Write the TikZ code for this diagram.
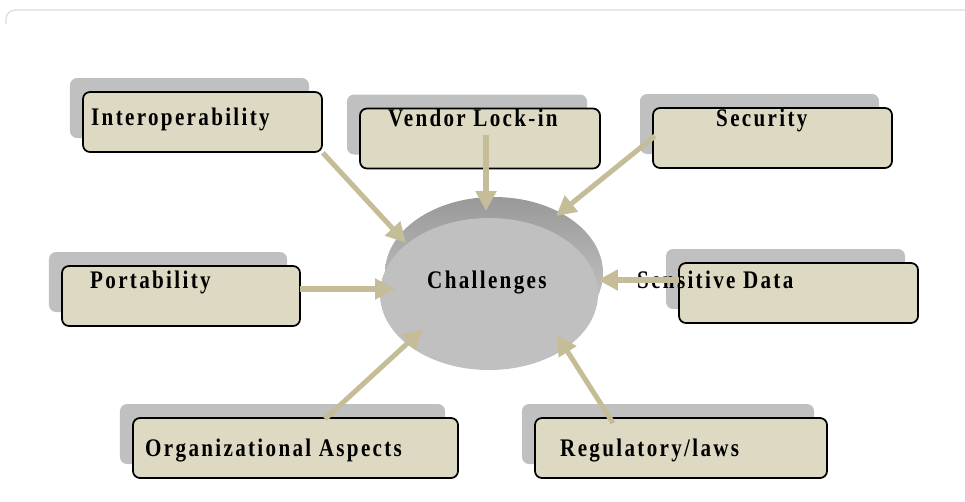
\documentclass[tikz,border=0pt]{standalone}
\usepackage{fontspec}
\setmainfont{Liberation Serif}[LetterSpace=11]
\usetikzlibrary{arrows.meta,shapes.geometric,shadows,positioning}

\definecolor{boxfill}{HTML}{DDD9C3}
\definecolor{linkcol}{HTML}{C4BD97}
\definecolor{shadegray}{HTML}{C0C0C0}
\definecolor{framegray}{HTML}{DADADA}

\newcommand{\tallbf}[1]{\scalebox{1}[1.2]{#1}}

\begin{document}
\begin{tikzpicture}[x=0.03cm,y=-0.03cm]
\useasboundingbox (0,0) rectangle (965,501);
\tikzstyle{box} = [draw=black, line width=1.5pt, fill=boxfill, rounded corners=6pt,
  minimum height=1.8cm, inner sep=0pt,
  general shadow={fill=shadegray, shadow xshift=-0.39cm, shadow yshift=0.42cm}]
\tikzstyle{lbl} = [anchor=base west, inner sep=0pt, font=\fontsize{18}{18}\selectfont\bfseries]
\tikzstyle{link} = [linkcol, line width=4.3pt, -{Triangle[length=17pt,width=17pt]}]
% frame
\draw[framegray, line width=1pt, rounded corners=8pt] (6,24) -- (6,10) -- (965,10);
% boxes
\node[box, minimum width=7.17cm] (interop) at (202.5,122) {};
\node[box, minimum width=7.2cm] (vendor) at (480,138.5) {};
\node[box, minimum width=7.17cm] (security) at (772.5,138) {};
\node[box, minimum width=7.14cm] (port) at (181,296) {};
\node[box, minimum width=7.17cm] (sensitive) at (798.5,293) {};
\node[box, minimum width=9.75cm] (org) at (295.5,448) {};
\node[box, minimum width=8.76cm] (reg) at (681,448) {};
% the disc
\node[ellipse, minimum width=6.54cm, minimum height=4.56cm, top color=gray!80, bottom color=gray!35] (rim) at (494,273) {};
\node[ellipse, minimum width=6.54cm, minimum height=4.56cm, fill=shadegray] (chal) at (489,294) {};
% texts
\node[lbl] (interopT) at (91,125) {\tallbf{Interoperability}};
\node[lbl] (vendorT) at (388,126) {\tallbf{Vendor Lock-in}};
\node[lbl] (securityT) at (716,126) {\tallbf{Security}};
\node[lbl] (portT) at (90,288) {\tallbf{Portability}};
\node[lbl] (sensitiveT) at (637,288) {\tallbf{Sensitive Data}};
\node[lbl] (chalT) at (427,288) {\tallbf{Challenges}};
\node[lbl] (orgT) at (145,456) {\tallbf{Organizational Aspects}};
\node[lbl] (regT) at (560,456) {\tallbf{Regulatory/laws}};
% arrow ends
\coordinate (vendorS) at (486,135);
\coordinate (securityS) at (655,136);
\coordinate (portS) at (300,289);
\coordinate (sensitiveS) at (679,280);
\coordinate (orgS) at (325,419);
\coordinate (regS) at (613,423);
\coordinate (tA) at (406,243);
\coordinate (tB) at (486,211);
\coordinate (tC) at (556,216);
\coordinate (tD) at (395,289);
\coordinate (tE) at (598,280);
\coordinate (tF) at (423,329);
\coordinate (tG) at (557,335);
\draw[link] (interop.south east) -- (tA);
\draw[link] (vendorS) -- (tB);
\draw[link] (securityS) -- (tC);
\draw[link] (portS) -- (tD);
\draw[link] (sensitiveS) -- (tE);
\draw[link] (orgS) -- (tF);
\draw[link] (regS) -- (tG);
\end{tikzpicture}
\end{document}
